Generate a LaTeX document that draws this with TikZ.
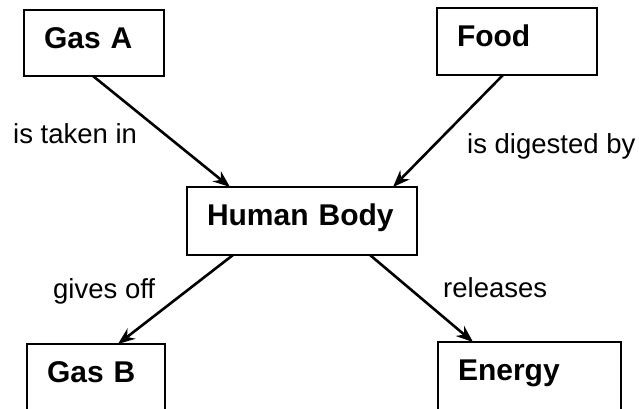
\documentclass[tikz,border=0pt]{standalone}
\usepackage{fontspec}
\setmainfont{Liberation Sans}
\usetikzlibrary{arrows.meta,calc}
\tikzset{
  box/.style n args={2}{draw=black, line width=1.8pt, anchor=north west, outer sep=0pt,
    inner xsep=20pt, inner ysep=0pt, text width=#1pt-40pt, align=left,
    minimum height=#2pt, text height=38pt, text depth=#2pt-38pt,
    font=\fontsize{30}{36}\selectfont\bfseries},
  lab/.style={anchor=base west, inner sep=0pt, font=\fontsize{27.5}{33}\selectfont},
  link/.style={draw=black, line width=2.6pt, -{Stealth[length=17pt,width=13pt]}}
}
\begin{document}
\begin{tikzpicture}[x=1pt,y=-1pt]
\useasboundingbox (0,0) rectangle (639,408);
\clip (0,0) rectangle (639,408);
\node[box={140}{66}] (gasA) at (24,10) {Gas A};
\node[box={160}{67}] (food) at (437,8) {Food};
\node[box={230}{68}] (human) at (187,187) {Human Body};
\node[box={138}{100}] (gasB) at (27,344) {Gas B};
\node[box={183}{100}] (energy) at (438,342) {Energy};
\draw[link] ($(gasA.south west)+(69,0)$) -- ($(human.north west)+(43,0)$);
\draw[link] ($(food.south west)+(66,0)$) -- ($(human.north east)+(-24,0)$);
\draw[link] ($(human.south west)+(46,0)$) -- ($(gasB.north west)+(91,0)$);
\draw[link] ($(human.south east)+(-47,0)$) -- ($(energy.north west)+(35,0)$);
\node[lab] (l1) at (13,143) {is taken in};
\node[lab] (l2) at (467,153) {is digested by};
\node[lab] (l3) at (53,298) {gives off};
\node[lab] (l4) at (443,297) {releases};
\end{tikzpicture}
\end{document}
